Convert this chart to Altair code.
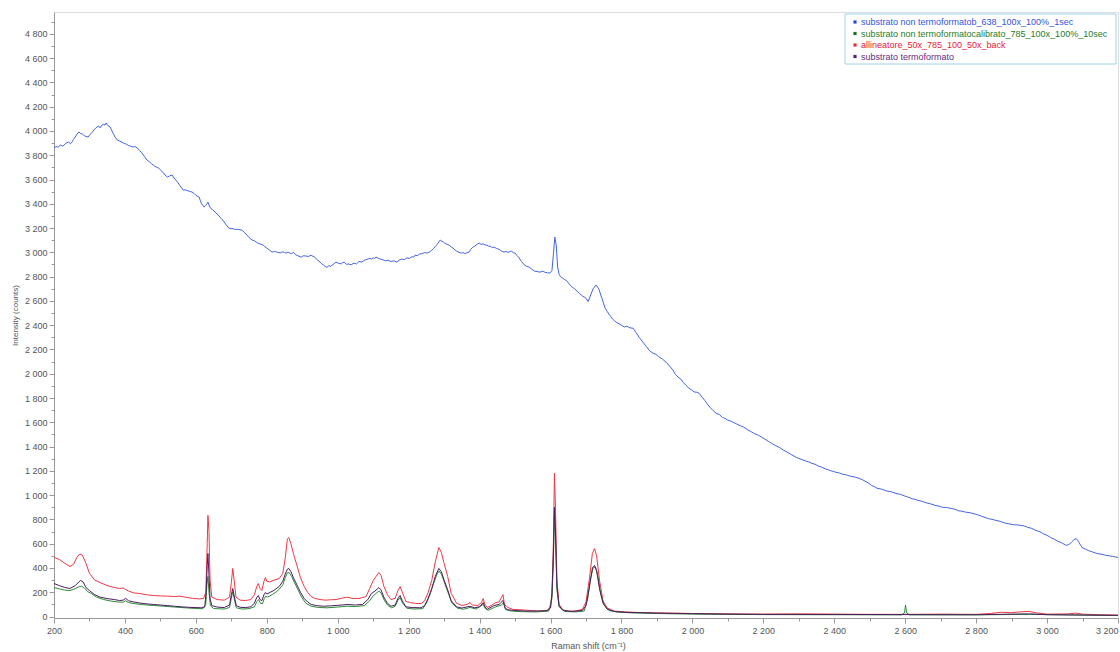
import altair as alt
import pandas as pd

# ---------------- data ----------------
series_names = [
    "substrato non termoformatob_638_100x_100%_1sec",
    "substrato non termoformatocalibrato_785_100x_100%_10sec",
    "allineatore_50x_785_100_50x_back",
    "substrato termoformato",
]
line_colors = ["#4464e2", "#2e8b3a", "#ee3846", "#4a1d5e"]
legend_marker_colors = ["#2244ee", "#1e6e1e", "#ff2233", "#5a1a70"]
legend_text_colors = ["#3355dd", "#2a7a2a", "#e8203a", "#6a2a80"]

blue = [
    (200, 3860), (206, 3872), (212, 3866), (218, 3885), (225, 3875), (233, 3898), (241, 3909),
    (246, 3895), (250, 3905), (255, 3930), (260, 3950), (265, 3975), (270, 3992), (275, 3980),
    (280, 3975), (285, 3962), (290, 3955), (296, 3950), (300, 3965), (305, 3980), (310, 3998),
    (313, 4010), (317, 4020), (321, 4033), (326, 4040), (330, 4025), (335, 4048), (340, 4055),
    (344, 4048), (347, 4066), (352, 4045), (358, 4033), (362, 4010), (365, 3990), (369, 3968),
    (372, 3950), (378, 3926), (384, 3918), (390, 3910), (395, 3902), (400, 3895), (405, 3890),
    (410, 3880), (416, 3875), (423, 3868), (428, 3872), (435, 3860), (441, 3840), (448, 3818),
    (455, 3790), (462, 3761), (468, 3748), (475, 3730), (483, 3712), (490, 3700), (495, 3694),
    (500, 3680), (507, 3660), (513, 3637), (520, 3620), (526, 3630), (533, 3637), (539, 3612),
    (545, 3590), (550, 3572), (555, 3550), (560, 3530), (564, 3513), (570, 3515), (575, 3510),
    (582, 3502), (589, 3497), (595, 3485), (600, 3470), (605, 3462), (609, 3456), (613, 3425),
    (616, 3400), (620, 3385), (623, 3373), (627, 3385), (630, 3395), (634, 3414), (637, 3390),
    (640, 3370), (647, 3352), (654, 3332), (660, 3315), (665, 3300), (672, 3278), (680, 3250),
    (686, 3225), (693, 3200), (699, 3196), (705, 3195), (711, 3188), (718, 3190), (724, 3186),
    (730, 3183), (736, 3165), (742, 3150), (748, 3128), (755, 3110), (760, 3100), (765, 3095),
    (770, 3085), (775, 3076), (782, 3068), (790, 3060), (795, 3045), (800, 3035), (808, 3018),
    (815, 3002), (822, 3008), (830, 3000), (838, 2996), (845, 3005), (850, 2998), (855, 2995),
    (860, 3002), (865, 2994), (870, 2990), (875, 3000), (880, 2985), (885, 2975), (891, 2968),
    (897, 2961), (903, 2972), (910, 2970), (917, 2966), (925, 2977), (930, 2968), (935, 2960),
    (942, 2940), (950, 2920), (955, 2905), (960, 2895), (965, 2882), (970, 2878), (975, 2890),
    (980, 2885), (987, 2900), (995, 2920), (1002, 2910), (1010, 2905), (1015, 2918),
    (1020, 2915), (1025, 2900), (1030, 2905), (1038, 2898), (1046, 2911), (1053, 2905),
    (1060, 2925), (1068, 2920), (1075, 2935), (1082, 2942), (1090, 2950), (1095, 2945),
    (1100, 2955), (1104, 2950), (1108, 2961), (1114, 2952), (1120, 2945), (1128, 2938),
    (1135, 2930), (1142, 2935), (1150, 2925), (1158, 2930), (1167, 2920), (1173, 2935),
    (1180, 2945), (1188, 2940), (1195, 2955), (1202, 2950), (1210, 2965), (1214, 2960),
    (1218, 2977), (1224, 2972), (1230, 2985), (1238, 2990), (1245, 2998), (1251, 2994),
    (1258, 3002), (1264, 3015), (1270, 3030), (1275, 3048), (1280, 3065), (1285, 3085),
    (1289, 3101), (1294, 3090), (1298, 3085), (1302, 3076), (1305, 3070), (1310, 3064),
    (1314, 3060), (1320, 3045), (1325, 3035), (1330, 3022), (1335, 3010), (1342, 3000),
    (1348, 2994), (1353, 2998), (1358, 2990), (1364, 2996), (1370, 3002), (1375, 3025),
    (1380, 3040), (1385, 3048), (1390, 3060), (1395, 3070), (1399, 3076), (1404, 3066),
    (1410, 3070), (1415, 3062), (1420, 3060), (1425, 3052), (1430, 3050), (1436, 3040),
    (1441, 3043), (1448, 3032), (1455, 3025), (1462, 3010), (1469, 3002), (1474, 3008),
    (1480, 3000), (1485, 3006), (1490, 3010), (1495, 2998), (1500, 2994), (1505, 2975),
    (1510, 2960), (1518, 2925), (1525, 2900), (1532, 2885), (1540, 2878), (1548, 2860),
    (1555, 2845), (1562, 2842), (1570, 2837), (1578, 2845), (1585, 2835), (1592, 2832),
    (1598, 2829), (1604, 2850), (1608, 2980), (1612, 3126), (1616, 3060), (1620, 2880),
    (1624, 2820), (1628, 2800), (1634, 2788), (1640, 2775), (1645, 2768), (1650, 2750),
    (1656, 2728), (1661, 2713), (1668, 2700), (1675, 2680), (1682, 2660), (1690, 2640),
    (1695, 2632), (1700, 2622), (1706, 2595), (1712, 2640), (1720, 2700), (1728, 2730),
    (1736, 2700), (1745, 2620), (1754, 2540), (1760, 2512), (1765, 2490), (1770, 2470),
    (1775, 2450), (1780, 2438), (1785, 2425), (1793, 2412), (1800, 2400), (1808, 2385),
    (1815, 2392), (1824, 2378), (1833, 2375), (1841, 2340), (1850, 2300), (1860, 2262),
    (1870, 2225), (1879, 2190), (1889, 2169), (1897, 2160), (1905, 2140), (1915, 2122),
    (1926, 2095), (1935, 2066), (1945, 2030), (1952, 1995), (1960, 1970), (1967, 1958),
    (1974, 1930), (1982, 1904), (1990, 1882), (1998, 1866), (2005, 1850), (2012, 1848),
    (2019, 1839), (2027, 1808), (2035, 1780), (2042, 1752), (2050, 1722), (2058, 1698),
    (2067, 1674), (2076, 1664), (2085, 1640), (2092, 1632), (2100, 1617), (2108, 1610),
    (2115, 1600), (2125, 1586), (2135, 1572), (2145, 1560), (2155, 1540), (2165, 1524),
    (2175, 1507), (2186, 1494), (2196, 1476), (2205, 1460), (2215, 1442), (2225, 1424),
    (2235, 1407), (2246, 1392), (2258, 1369), (2269, 1352), (2280, 1332), (2290, 1316),
    (2300, 1302), (2310, 1292), (2320, 1281), (2328, 1274), (2337, 1262), (2346, 1254),
    (2355, 1240), (2365, 1230), (2375, 1216), (2383, 1208), (2390, 1201), (2398, 1195),
    (2405, 1188), (2415, 1182), (2425, 1171), (2435, 1166), (2445, 1156), (2458, 1150),
    (2470, 1138), (2480, 1126), (2490, 1110), (2498, 1096), (2505, 1080), (2513, 1070),
    (2521, 1056), (2533, 1050), (2545, 1036), (2560, 1028), (2574, 1014), (2587, 1006),
    (2600, 991), (2610, 982), (2620, 970), (2628, 966), (2636, 957), (2648, 949),
    (2660, 936), (2672, 928), (2685, 915), (2695, 910), (2705, 900), (2717, 898),
    (2729, 891), (2740, 884), (2750, 871), (2760, 868), (2770, 860), (2780, 857),
    (2791, 849), (2803, 840), (2815, 826), (2825, 817), (2835, 806), (2845, 801),
    (2856, 792), (2868, 784), (2880, 771), (2893, 764), (2905, 756), (2916, 755),
    (2927, 750), (2936, 746), (2945, 735), (2957, 726), (2969, 709), (2980, 698),
    (2990, 681), (3000, 669), (3010, 651), (3020, 638), (3030, 621), (3042, 606),
    (3054, 586), (3060, 592), (3065, 600), (3070, 616), (3075, 630), (3082, 643),
    (3086, 628), (3090, 610), (3095, 585), (3100, 565), (3108, 556), (3116, 544),
    (3128, 532), (3140, 520), (3152, 514), (3165, 505), (3175, 500), (3185, 495),
    (3192, 491), (3200, 487),
]

red = [
    (200, 487), (215, 470), (230, 440), (245, 412), (255, 430), (265, 490), (273, 515),
    (280, 505), (290, 440), (300, 355), (315, 300), (330, 280), (350, 255), (370, 240),
    (385, 231), (395, 235), (402, 222), (410, 210), (425, 195), (440, 190), (460, 180),
    (480, 173), (500, 170), (520, 168), (540, 165), (555, 168), (570, 160), (590, 150),
    (610, 145), (622, 150), (628, 200), (632, 600), (634, 833), (637, 700), (640, 300),
    (645, 160), (660, 140), (680, 135), (695, 160), (700, 280), (704, 396), (708, 300),
    (713, 160), (725, 135), (740, 132), (755, 140), (765, 180), (772, 250), (776, 272),
    (781, 230), (786, 214), (792, 290), (796, 322), (800, 290), (808, 285), (820, 300),
    (835, 313), (845, 355), (852, 480), (858, 640), (862, 651), (868, 600), (875, 520),
    (885, 420), (895, 320), (905, 250), (915, 200), (925, 165), (935, 150), (950, 140),
    (965, 135), (980, 138), (995, 140), (1010, 150), (1026, 160), (1040, 150), (1060, 148),
    (1080, 165), (1090, 230), (1100, 297), (1108, 330), (1116, 363), (1122, 340),
    (1130, 250), (1140, 180), (1150, 140), (1162, 150), (1170, 215), (1176, 247),
    (1182, 200), (1192, 125), (1205, 115), (1220, 108), (1235, 107), (1245, 130),
    (1255, 200), (1265, 297), (1275, 450), (1285, 569), (1292, 530), (1300, 437),
    (1310, 330), (1320, 190), (1335, 110), (1350, 91), (1365, 100), (1373, 115), (1380, 95),
    (1395, 91), (1405, 115), (1410, 148), (1415, 100), (1422, 74), (1432, 90), (1445, 115),
    (1455, 120), (1462, 160), (1466, 181), (1470, 100), (1480, 74), (1495, 58), (1520, 55),
    (1550, 48), (1570, 45), (1590, 50), (1600, 80), (1604, 200), (1608, 600), (1611, 1180),
    (1614, 900), (1618, 300), (1624, 100), (1635, 55), (1650, 45), (1670, 45), (1690, 60),
    (1700, 120), (1710, 320), (1718, 520), (1724, 560), (1730, 500), (1738, 300),
    (1748, 130), (1760, 70), (1780, 45), (1810, 38), (1850, 33), (1900, 30), (1950, 28),
    (2000, 25), (2100, 22), (2200, 20), (2300, 22), (2400, 20), (2500, 18), (2600, 18),
    (2700, 20), (2800, 18), (2840, 25), (2870, 35), (2900, 32), (2930, 40), (2950, 42),
    (2970, 30), (3000, 20), (3060, 22), (3080, 28), (3100, 20), (3150, 15), (3200, 12),
]

purple = [
    (200, 272), (215, 255), (230, 240), (245, 231), (260, 255), (270, 285), (275, 297),
    (282, 285), (290, 240), (300, 214), (315, 180), (330, 160), (350, 148), (370, 140),
    (385, 132), (395, 135), (402, 150), (410, 130), (425, 120), (440, 112), (460, 105),
    (480, 99), (500, 95), (520, 90), (540, 85), (560, 80), (580, 76), (600, 74), (615, 72),
    (625, 80), (629, 200), (632, 420), (634, 520), (636, 400), (640, 150), (645, 90),
    (660, 78), (680, 74), (695, 95), (700, 180), (704, 231), (708, 170), (714, 90),
    (725, 76), (740, 74), (755, 80), (765, 110), (772, 160), (776, 173), (781, 140),
    (786, 130), (792, 180), (796, 198), (800, 185), (810, 200), (820, 215), (835, 248),
    (845, 290), (852, 350), (858, 390), (862, 396), (868, 370), (875, 320), (885, 260),
    (895, 200), (905, 150), (915, 120), (925, 100), (940, 90), (960, 85), (980, 88),
    (1000, 92), (1026, 99), (1050, 95), (1070, 100), (1085, 140), (1095, 190), (1105, 210),
    (1116, 239), (1122, 220), (1130, 160), (1140, 110), (1150, 85), (1162, 95), (1170, 150),
    (1176, 173), (1182, 130), (1192, 80), (1210, 74), (1235, 72), (1245, 90), (1255, 150),
    (1265, 230), (1275, 330), (1285, 396), (1292, 370), (1300, 300), (1310, 220),
    (1320, 130), (1335, 80), (1350, 70), (1373, 85), (1385, 72), (1400, 80), (1410, 115),
    (1415, 80), (1422, 60), (1440, 90), (1455, 100), (1466, 132), (1472, 70), (1480, 55),
    (1500, 50), (1530, 45), (1560, 45), (1590, 48), (1600, 70), (1604, 180), (1608, 500),
    (1611, 900), (1614, 700), (1618, 250), (1624, 90), (1635, 50), (1660, 42), (1690, 50),
    (1700, 90), (1710, 250), (1718, 400), (1724, 420), (1730, 380), (1738, 230),
    (1748, 110), (1760, 60), (1780, 42), (1810, 35), (1850, 32), (1900, 28), (1950, 26),
    (2000, 24), (2100, 20), (2200, 18), (2400, 17), (2600, 16), (2800, 15), (2900, 20),
    (2950, 22), (3000, 15), (3200, 10),
]

green = [
    (200, 239), (215, 228), (230, 218), (245, 214), (260, 230), (270, 245), (277, 250),
    (285, 238), (295, 205), (305, 190), (320, 160), (340, 140), (360, 128), (380, 120),
    (395, 118), (402, 130), (410, 115), (430, 105), (450, 98), (480, 91), (510, 85),
    (540, 78), (570, 72), (600, 66), (620, 64), (628, 100), (631, 260), (634, 330),
    (637, 200), (641, 90), (650, 66), (680, 62), (695, 75), (700, 150), (704, 205),
    (708, 150), (714, 72), (730, 62), (750, 65), (765, 80), (772, 125), (777, 140),
    (782, 110), (788, 105), (793, 150), (797, 168), (802, 160), (815, 180), (830, 210),
    (845, 260), (852, 320), (858, 360), (863, 362), (870, 330), (878, 280), (888, 220),
    (898, 160), (910, 110), (925, 85), (945, 75), (970, 72), (1000, 78), (1026, 85),
    (1050, 82), (1075, 90), (1090, 130), (1100, 170), (1108, 190), (1116, 210),
    (1122, 195), (1132, 130), (1142, 90), (1152, 72), (1162, 85), (1170, 135), (1176, 155),
    (1183, 110), (1195, 68), (1215, 62), (1240, 65), (1250, 110), (1260, 180), (1270, 270),
    (1280, 350), (1286, 375), (1293, 345), (1302, 270), (1312, 190), (1322, 110),
    (1338, 68), (1355, 60), (1373, 75), (1390, 62), (1410, 100), (1416, 65), (1425, 52),
    (1445, 80), (1462, 95), (1467, 115), (1473, 58), (1490, 45), (1520, 40), (1560, 38),
    (1595, 45), (1604, 150), (1608, 450), (1611, 850), (1614, 650), (1618, 220),
    (1624, 80), (1640, 42), (1670, 38), (1695, 45), (1705, 150), (1712, 300), (1720, 400),
    (1726, 410), (1733, 340), (1742, 180), (1752, 90), (1765, 50), (1790, 36), (1830, 30),
    (1900, 25), (2000, 20), (2200, 16), (2400, 15), (2590, 14), (2598, 30), (2601, 95),
    (2604, 30), (2612, 14), (2800, 14), (2950, 18), (3200, 8),
]

x_ticks = list(range(200, 3201, 100))
y_ticks = list(range(0, 4901, 100))

FONT = "Liberation Sans"
W, H = 1064, 606

label_expr = "datum.value % 200 === 0 ? replace(format(datum.value, ','), ',', ' ') : ''"
tick_size = {"condition": {"test": "datum.value % 200 === 0", "value": 5}, "value": 3}
x_label_align = {"condition": {"test": "datum.value >= 3200", "value": "right"}, "value": "center"}

x_scale = alt.Scale(domain=[200, 3200], nice=False, zero=False)
y_scale = alt.Scale(domain=[-12, 4980], nice=False, zero=False)

x_axis = alt.Axis(
    values=x_ticks, labelExpr=label_expr, tickSize=tick_size, grid=False,
    labelAlign=x_label_align,
    title="Raman shift (cm⁻¹)", titleX=534, titleY=27, titleAlign="center",
    titleBaseline="middle", titleFontSize=9, titleFontWeight="normal", titleColor="#555555",
    labelFontSize=9, labelColor="#555555", labelFont=FONT, titleFont=FONT,
    labelFlush=False, labelOverlap=False, labelPadding=3,
    domainColor="#999999", tickColor="#999999",
)
y_axis = alt.Axis(
    values=y_ticks, labelExpr=label_expr, tickSize=tick_size, grid=False,
    title="Intensity (counts)", titleX=-39, titleY=303, titleAngle=270, titleAlign="center",
    titleBaseline="middle", titleFontSize=8, titleFontWeight="normal", titleColor="#555555",
    labelFontSize=9, labelColor="#555555", labelFont=FONT, titleFont=FONT,
    labelFlush=False, labelOverlap=False, labelPadding=2,
    domainColor="#999999", tickColor="#999999",
)


def frame(points, name):
    return pd.DataFrame({"shift": [p[0] for p in points],
                         "counts": [p[1] for p in points],
                         "series": name})


def line_layer(points, name, color):
    return alt.Chart(frame(points, name)).mark_line(
        color=color, strokeWidth=1, clip=True
    ).encode(
        x=alt.X("shift:Q", scale=x_scale, axis=x_axis),
        y=alt.Y("counts:Q", scale=y_scale, axis=y_axis),
    )


layers = [
    line_layer(blue, series_names[0], line_colors[0]),
    line_layer(red, series_names[2], line_colors[2]),
    line_layer(green, series_names[1], line_colors[1]),
    line_layer(purple, series_names[3], line_colors[3]),
]

# legend box (drawn manually, positioned in pixels)
one = pd.DataFrame({"k": [0]})
layers.append(
    alt.Chart(one).mark_rect(fill="white", stroke="#9fd3ea", strokeWidth=1).encode(
        x=alt.value(791), x2=alt.value(1062), y=alt.value(2), y2=alt.value(52)
    )
)
row_y = [10, 21.5, 33, 44.5]
for i, name in enumerate(series_names):
    d = pd.DataFrame({"series": [name]})
    layers.append(
        alt.Chart(d).mark_square(size=10, color=legend_marker_colors[i], opacity=1).encode(
            x=alt.value(801), y=alt.value(row_y[i])
        )
    )
    layers.append(
        alt.Chart(d).mark_text(
            align="left", baseline="middle", fontSize=9, font=FONT,
            color=legend_text_colors[i]
        ).encode(x=alt.value(807), y=alt.value(row_y[i]), text="series:N")
    )

chart = alt.layer(*layers).properties(
    width=W, height=H,
    autosize=alt.AutoSizeParams(type="none"),
    padding={"left": 54, "top": 12, "right": 2, "bottom": 34},
).configure_view(stroke="#a8a8a8", strokeWidth=1).configure(background="white")

chart.save("out.html", embed_options={"renderer": "svg", "actions": False})
